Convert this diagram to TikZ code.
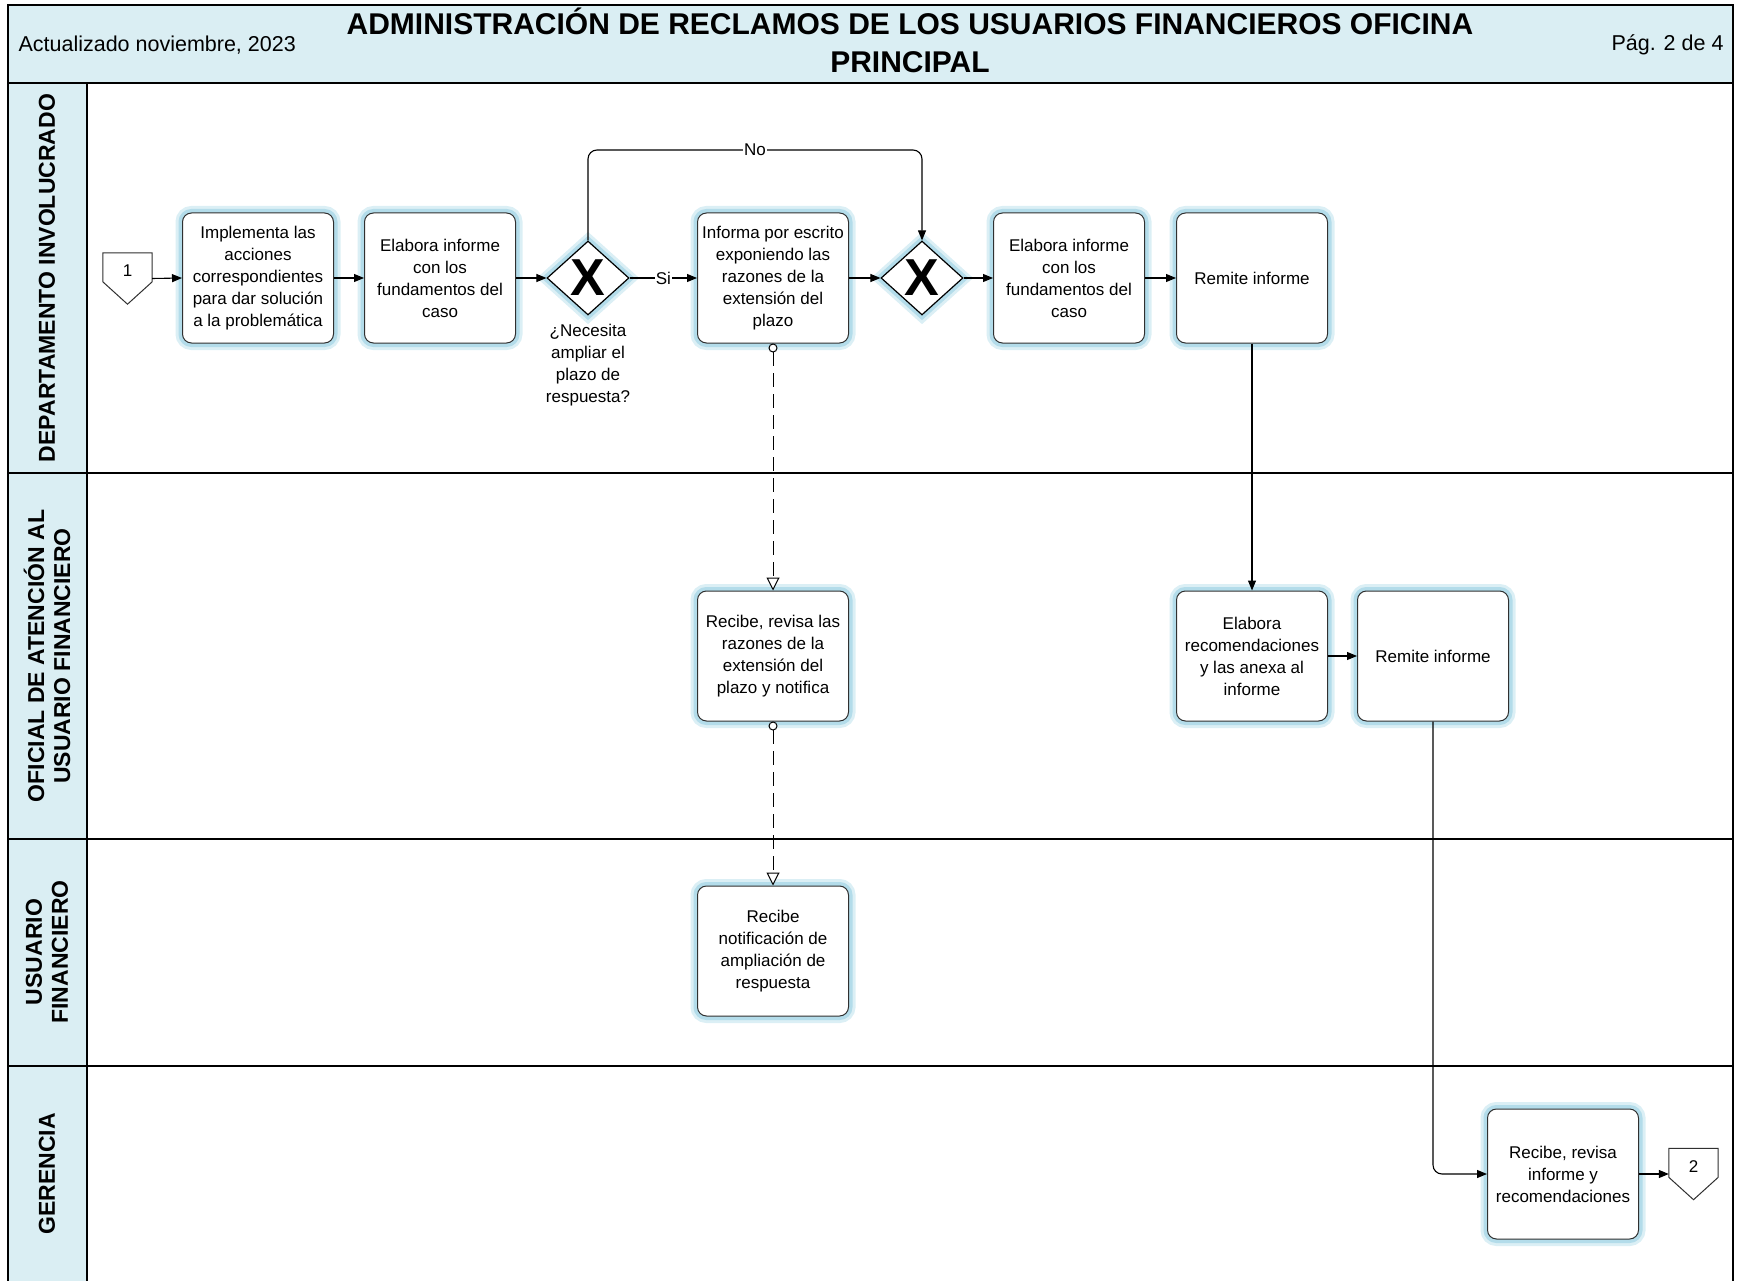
\documentclass[tikz,border=0pt]{standalone}
\usepackage{fontspec}
\setmainfont{Liberation Sans}
\usetikzlibrary{arrows.meta,shapes.geometric,calc}
\definecolor{headfill}{HTML}{DAEEF3}
\definecolor{glow}{HTML}{A6D6E6}
\definecolor{edge}{HTML}{303030}
\begin{document}
\begin{tikzpicture}[x=1pt,y=-1pt,
  halo/.style={preaction={draw=glow!40,line width=14pt},
               preaction={draw=glow!85,line width=8pt}},
  task/.style={halo,draw=edge,line width=1pt,rounded corners=9pt,fill=white,
    minimum width=151pt,minimum height=130pt,inner sep=2pt,align=center,
    font=\fontsize{17}{22}\selectfont},
  gate/.style={halo,draw=black,line width=1.2pt,fill=white,shape=diamond,
    minimum width=82pt,minimum height=74pt,inner sep=0pt},
  gatex/.style={font=\fontsize{52}{52}\bfseries\selectfont,inner sep=0pt},
  offpage/.style={minimum width=49pt,minimum height=51pt,inner sep=0pt},
  flow/.style={draw=black,line width=1.1pt,-{Triangle[length=10pt,width=8pt]}},
  msg/.style={draw=black,line width=1pt,dash pattern=on 14pt off 7pt,
    {Circle[open,length=9pt,width=9pt,fill=white]}-{Triangle[open,length=13pt,width=13pt,fill=white]}},
  lane/.style={font=\fontsize{23}{26}\bfseries\selectfont,rotate=90,align=center},
  lbl/.style={font=\fontsize{17}{22}\selectfont,align=center,inner sep=1pt}]
\useasboundingbox (0,0) rectangle (1737,1281);
\clip (0,0) rectangle (1737,1281);

% header band and lane label column
\fill[headfill] (8,5) rectangle (1733,83);
\fill[headfill] (8,83) rectangle (87,1290);
\node[anchor=west,font=\fontsize{21.5}{24}\selectfont] (upd) at (15,45) {Actualizado noviembre, 2023};
\node[anchor=east,font=\fontsize{21.5}{24}\selectfont] (pag) at (1727,45) {Pág. 2 de 4};
\node[align=center,font=\fontsize{30}{38}\bfseries\selectfont] (title) at (910,40)
  {ADMINISTRACIÓN DE RECLAMOS DE LOS USUARIOS FINANCIEROS OFICINA\\PRINCIPAL};

% pool frame and lane dividers
\draw[line width=2pt] (8,1290) -- (8,5) -- (1733,5) -- (1733,1290);
\draw[line width=2pt] (8,83) -- (1733,83);
\draw[line width=1.5pt] (87,83) -- (87,1290);
\draw[line width=1.5pt] (8,473) -- (1733,473);
\draw[line width=1.5pt] (8,839) -- (1733,839);
\draw[line width=1.5pt] (8,1066) -- (1733,1066);

\node[lane] (l1) at (47,278) {DEPARTAMENTO INVOLUCRADO};
\node[lane] (l2) at (47,656) {OFICIAL DE ATENCIÓN AL\\USUARIO FINANCIERO};
\node[lane] (l3) at (47,952) {USUARIO\\FINANCIERO};
\node[lane] (l4) at (47,1174) {GERENCIA};

% lane 1: departamento involucrado
\node[offpage] (c1) at (127.5,278.5) {};
\draw[edge,line width=1pt,fill=white] (c1.north west) -- (c1.north east) -- ($(c1.north east)+(0,29)$)
  -- (c1.south) -- ($(c1.north west)+(0,29)$) -- cycle;
\node[lbl] (c1t) at (127.5,271) {1};

\node[task] (t1) at (258,278) {Implementa las\\acciones\\correspondientes\\para dar solución\\a la problemática};
\node[task] (t2) at (440,278) {Elabora informe\\con los\\fundamentos del\\caso};
\node[gate] (g1) at (588,278) {};
\node[gatex] (g1x) at (588,278) {X};
\node[lbl] (q1) at (588,365) {¿Necesita\\ampliar el\\plazo de\\respuesta?};
\node[task] (t3) at (773,278) {Informa por escrito\\exponiendo las\\razones de la\\extensión del\\plazo};
\node[gate] (g2) at (922,278) {};
\node[gatex] (g2x) at (922,278) {X};
\node[task] (t4) at (1069,278) {Elabora informe\\con los\\fundamentos del\\caso};
\node[task] (t5) at (1252,278) {Remite informe};

% lane 2: oficial de atención
\node[task] (t6) at (773,656) {Recibe, revisa las\\razones de la\\extensión del\\plazo y notifica};
\node[task] (t7) at (1252,656) {Elabora\\recomendaciones\\y las anexa al\\informe};
\node[task] (t8) at (1433,656) {Remite informe};

% lane 3: usuario financiero
\node[task] (t9) at (773,951) {Recibe\\notificación de\\ampliación de\\respuesta};

% lane 4: gerencia
\node[task] (t10) at (1563,1174) {Recibe, revisa\\informe y\\recomendaciones};
\node[offpage] (c2) at (1693.5,1174) {};
\draw[edge,line width=1pt,fill=white] (c2.north west) -- (c2.north east) -- ($(c2.north east)+(0,29)$)
  -- (c2.south) -- ($(c2.north west)+(0,29)$) -- cycle;
\node[lbl] (c2t) at (1693.5,1167) {2};

% sequence flows
\draw[flow] (c1.east) -- (t1.west);
\draw[flow] (t1.east) -- (t2.west);
\draw[flow] (t2.east) -- (g1.west);
\draw[flow] (g1.east) -- node[lbl,fill=white] (si) {Si} (t3.west);
\draw[flow,rounded corners=9pt] (g1.north) -- (g1.north |- 0,150)
  -- node[lbl,fill=white] (no) {No} (g2.north |- 0,150) -- (g2.north);
\draw[flow] (t3.east) -- (g2.west);
\draw[flow] (g2.east) -- (t4.west);
\draw[flow] (t4.east) -- (t5.west);
\draw[flow] (t5.south) -- (t7.north);
\draw[flow] (t7.east) -- (t8.west);
\draw[flow,rounded corners=9pt] (t8.south) |- (t10.west);
\draw[flow] (t10.east) -- (c2.west);

% message flows
\draw[msg] (t3.south) -- (t6.north);
\draw[msg] (t6.south) -- (t9.north);
\end{tikzpicture}
\end{document}
